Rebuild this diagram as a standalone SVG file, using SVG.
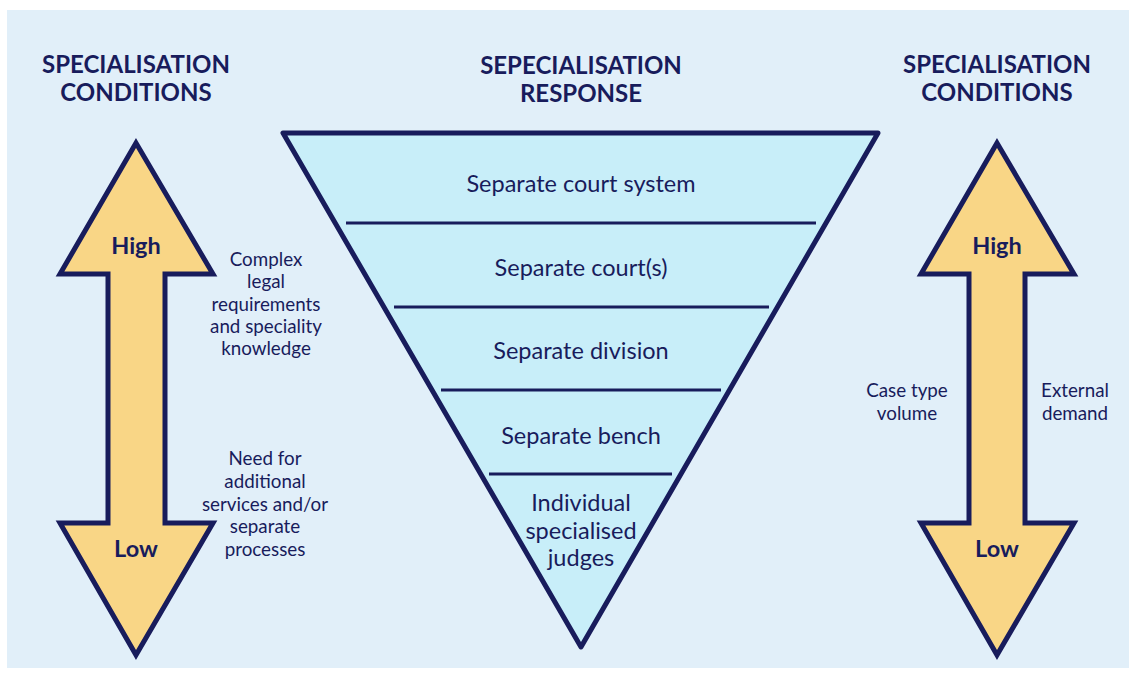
<svg xmlns="http://www.w3.org/2000/svg" width="1136" height="673" viewBox="0 0 1136 673">
  <style>
    .panel { fill: #e1eff9; }
    .arrow { fill: #f9d686; stroke: #181c5c; stroke-width: 5; stroke-linejoin: miter; }
    .funnel { fill: #c8eef9; stroke: #181c5c; stroke-width: 5; stroke-linejoin: round; }
    .divider { stroke: #181c5c; stroke-width: 3; }
    text { font-family: Lato, "Liberation Sans", sans-serif; fill: #181c5c; text-anchor: middle; }
    .head { font-size: 24px; font-weight: 700; }
    .level { font-size: 23.5px; font-weight: 700; }
    .note { font-size: 18.8px; }
    .tier { font-size: 23.5px; }
  </style>

  <!-- background panel -->
  <rect x="7" y="10" width="1122" height="658" class="panel"/>

  <!-- left column -->
  <g id="left-heading">
    <text class="head" x="136" y="73">SPECIALISATION</text>
    <text class="head" x="136" y="101">CONDITIONS</text>
  </g>
  <g id="left-arrow">
    <polygon class="arrow" points="136,143 213,274 165,274 165,523 213,523 136,655 60,523 108,523 108,274 60,274"/>
    <text class="level" x="136" y="254">High</text>
    <text class="level" x="136" y="557">Low</text>
  </g>
  <g id="left-note-top">
    <text class="note" x="266" y="266">Complex</text>
    <text class="note" x="266" y="288">legal</text>
    <text class="note" x="266" y="311">requirements</text>
    <text class="note" x="266" y="333">and speciality</text>
    <text class="note" x="266" y="355">knowledge</text>
  </g>
  <g id="left-note-bottom">
    <text class="note" x="265" y="465">Need for</text>
    <text class="note" x="265" y="488">additional</text>
    <text class="note" x="265" y="511">services and/or</text>
    <text class="note" x="265" y="533">separate</text>
    <text class="note" x="265" y="556">processes</text>
  </g>

  <!-- centre column -->
  <g id="centre-heading">
    <text class="head" x="581" y="74">SEPECIALISATION</text>
    <text class="head" x="581" y="102">RESPONSE</text>
  </g>
  <g id="funnel">
    <polygon class="funnel" points="283,133 878,133 581,647"/>
  </g>
  <g id="connectors">
    <line class="divider" x1="346" y1="223" x2="816" y2="223"/>
    <line class="divider" x1="394" y1="307" x2="769" y2="307"/>
    <line class="divider" x1="441" y1="390" x2="721" y2="390"/>
    <line class="divider" x1="489" y1="474" x2="672" y2="474"/>
  </g>
  <g id="tier-court-system">
    <text class="tier" x="581" y="192">Separate court system</text>
  </g>
  <g id="tier-courts">
    <text class="tier" x="581" y="276">Separate court(s)</text>
  </g>
  <g id="tier-division">
    <text class="tier" x="581" y="359">Separate division</text>
  </g>
  <g id="tier-bench">
    <text class="tier" x="581" y="444">Separate bench</text>
  </g>
  <g id="tier-judges">
    <text class="tier" x="581" y="511">Individual</text>
    <text class="tier" x="581" y="539">specialised</text>
    <text class="tier" x="581" y="566">judges</text>
  </g>

  <!-- right column -->
  <g id="right-heading">
    <text class="head" x="997" y="73">SPECIALISATION</text>
    <text class="head" x="997" y="101">CONDITIONS</text>
  </g>
  <g id="right-arrow">
    <polygon class="arrow" points="997,143 1074,274 1025,274 1025,523 1074,523 997,655 921,523 969,523 969,274 921,274"/>
    <text class="level" x="997" y="254">High</text>
    <text class="level" x="997" y="557">Low</text>
  </g>
  <g id="right-note-left">
    <text class="note" x="907" y="397">Case type</text>
    <text class="note" x="907" y="420">volume</text>
  </g>
  <g id="right-note-right">
    <text class="note" x="1075" y="397">External</text>
    <text class="note" x="1075" y="420">demand</text>
  </g>
</svg>
